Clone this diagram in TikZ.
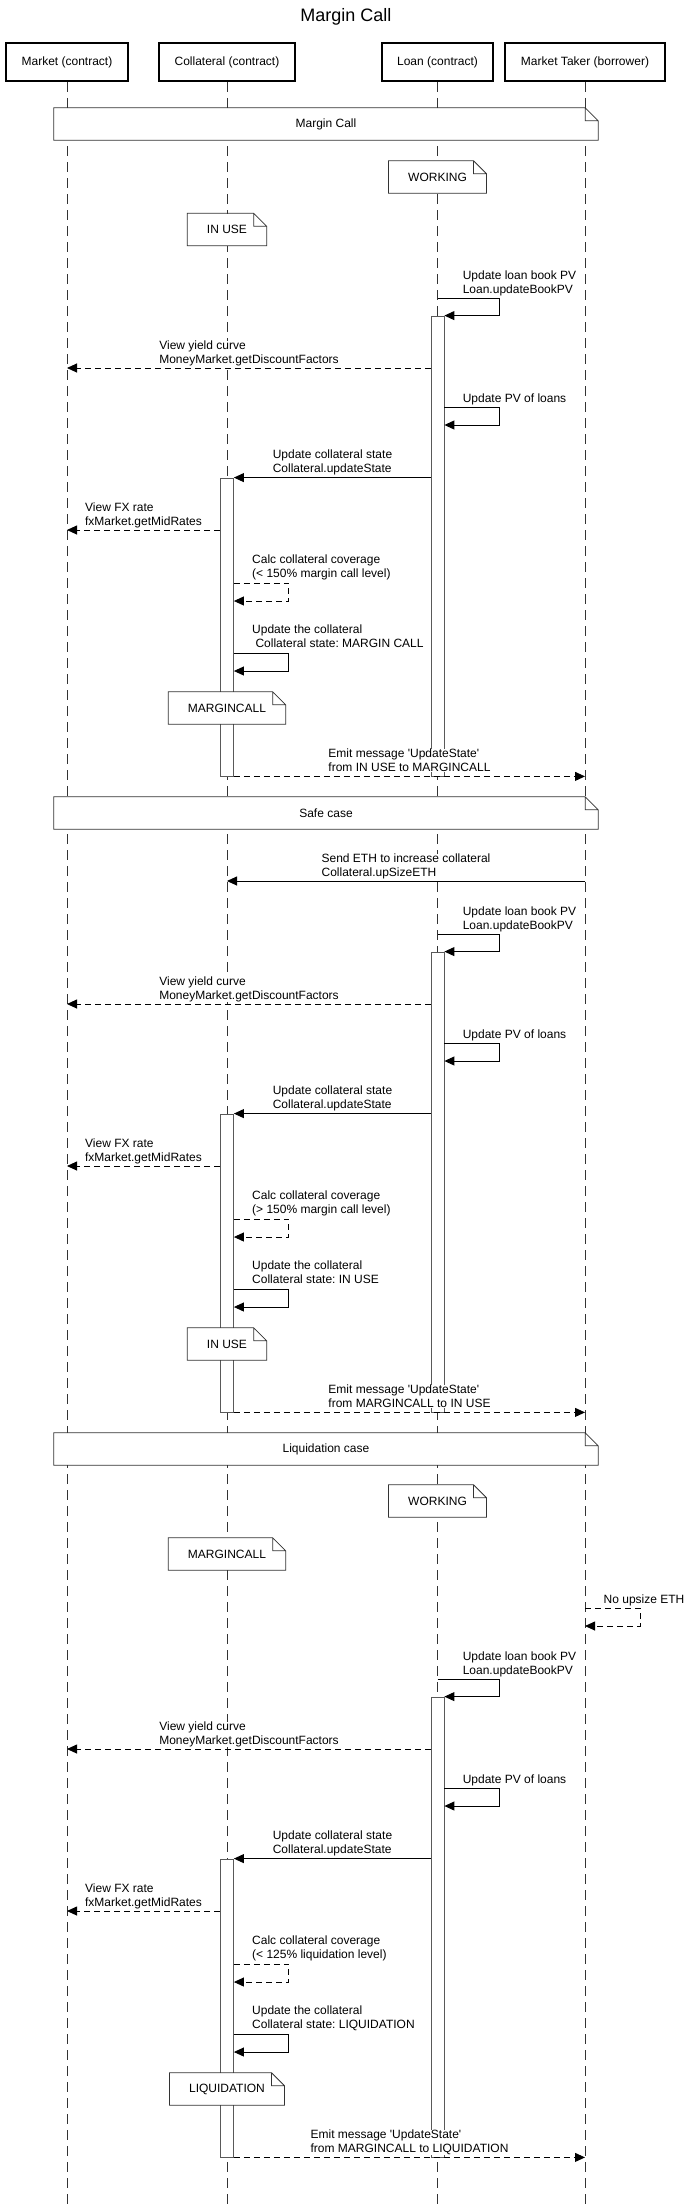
\documentclass[tikz,border=0pt]{standalone}
\usepackage{fontspec}
\setmainfont{Liberation Sans}
\usetikzlibrary{arrows.meta}
\frenchspacing

\tikzset{
  actor/.style={draw, line width=2pt, inner xsep=15.5pt, inner ysep=0pt, minimum height=38pt},
  lifeline/.style={draw=black!80, line width=0.8pt, dash pattern=on 10pt off 6pt},
  activation/.style={draw=black!65, fill=white, line width=0.8pt, inner sep=0pt, minimum width=13pt},
  statenote/.style={fill=white, inner xsep=19.5pt, inner ysep=0pt, minimum height=32pt},
  phase/.style={fill=white, inner sep=0pt, minimum width=544pt, minimum height=32pt},
  msg/.style={line width=0.9pt, -{Triangle[length=10pt,width=9pt]}},
  reply/.style={msg, dash pattern=on 6pt off 4pt},
  msgtext/.style={align=left, inner sep=0pt, fill=white},
}
% folded corner outline of a note
\newcommand{\dogear}[1]{%
  \draw[black!80, line width=0.8pt] (#1.south west) -- (#1.north west)
    -- ([xshift=-13pt]#1.north east) -- ([yshift=-13pt]#1.north east)
    -- (#1.south east) -- cycle
    ([xshift=-13pt]#1.north east) |- ([yshift=-13pt]#1.north east);}

\begin{document}
\begin{tikzpicture}[x=1pt, y=-1pt, font=\fontsize{12}{14}\selectfont]
\useasboundingbox (0,0) rectangle (692,2205);
\coordinate (bottom) at (0,2205);

% title and participants
\node[font=\fontsize{18}{21}\selectfont] (title) at (346,16.7) {Margin Call};
\node[actor] (mkt) at (67,62) {Market (contract)};
\node[actor] (col) at (227,62) {Collateral (contract)};
\node[actor] (loan) at (437.5,62) {Loan (contract)};
\node[actor] (taker) at (585,62) {Market Taker (borrower)};

% lifelines
\draw[lifeline] (mkt.south) -- (mkt |- bottom);
\draw[lifeline] (col.south) -- (col |- bottom);
\draw[lifeline] (loan.south) -- (loan |- bottom);
\draw[lifeline] (taker.south) -- (taker |- bottom);

% ---- margin call ----
\node[phase] (phase1) at (326,124) {Margin Call};
\dogear{phase1}
\node[statenote] (work1) at (437.5,177) {WORKING};
\dogear{work1}
\node[statenote] (inuse1) at (227,229.5) {IN USE};
\dogear{inuse1}

\node[activation, minimum height=460pt] (lact1) at (437.5,546) {};
\node[activation, minimum height=298pt] (cact1) at (227,627) {};
\node[statenote] (mc1) at (227,708) {MARGINCALL};
\dogear{mc1}

\node[msgtext, anchor=north west] (bookpv1) at (462.6,270.6) {Update loan book PV\\Loan.updateBookPV};
\draw[msg] (loan |- 0,298) -- ++(62,0) |- (lact1.north east);
\node[msgtext, anchor=north] (curve1) at (249,340.6) {View yield curve\\MoneyMarket.getDiscountFactors};
\draw[reply] (lact1.west |- 0,368) -- (mkt |- 0,368);
\node[msgtext, anchor=north west] (pv1) at (462.6,393.6) {Update PV of loans};
\draw[msg] (lact1.east |- 0,407) -- ++(55,0) |- (lact1.east |- 0,425);
\node[msgtext, anchor=north] (upd1) at (332.5,449.6) {Update collateral state\\Collateral.updateState};
\draw[msg] (lact1.west |- cact1.north) -- (cact1.north east);
\node[msgtext, anchor=north] (fx1) at (143.5,502.6) {View FX rate\\fxMarket.getMidRates};
\draw[reply] (cact1.west |- 0,530) -- (mkt |- 0,530);
\node[msgtext, anchor=north west] (calc1) at (252,554.6) {Calc collateral coverage\\(< 150\% margin call level)};
\draw[reply] (cact1.east |- 0,583) -- ++(55,0) |- (cact1.east |- 0,601);
\node[msgtext, anchor=north west] (setst1) at (252,624.6) {Update the collateral\\\hspace*{3.3pt}Collateral state: MARGIN CALL};
\draw[msg] (cact1.east |- 0,653) -- ++(55,0) |- (cact1.east |- 0,671);
\node[msgtext, anchor=north] (emit1) at (409.5,748.6) {Emit message \textquotesingle UpdateState\textquotesingle\\from IN USE to MARGINCALL};
\draw[reply] (cact1.south east) -- (taker |- cact1.south);

% ---- safe case ----
\node[phase] (phase2) at (326,813) {Safe case};
\dogear{phase2}

\node[msgtext, anchor=north] (sendeth) at (406,853.6) {Send ETH to increase collateral\\Collateral.upSizeETH};
\draw[msg] (taker |- 0,881) -- (col |- 0,881);

\node[activation, minimum height=460pt] (lact2) at (437.5,1182) {};
\node[activation, minimum height=298pt] (cact2) at (227,1263) {};
\node[statenote] (inuse2) at (227,1344) {IN USE};
\dogear{inuse2}

\node[msgtext, anchor=north west] (bookpv2) at (462.6,906.6) {Update loan book PV\\Loan.updateBookPV};
\draw[msg] (loan |- 0,934) -- ++(62,0) |- (lact2.north east);
\node[msgtext, anchor=north] (curve2) at (249,976.6) {View yield curve\\MoneyMarket.getDiscountFactors};
\draw[reply] (lact2.west |- 0,1004) -- (mkt |- 0,1004);
\node[msgtext, anchor=north west] (pv2) at (462.6,1029.6) {Update PV of loans};
\draw[msg] (lact2.east |- 0,1043) -- ++(55,0) |- (lact2.east |- 0,1061);
\node[msgtext, anchor=north] (upd2) at (332.5,1085.6) {Update collateral state\\Collateral.updateState};
\draw[msg] (lact2.west |- cact2.north) -- (cact2.north east);
\node[msgtext, anchor=north] (fx2) at (143.5,1138.6) {View FX rate\\fxMarket.getMidRates};
\draw[reply] (cact2.west |- 0,1166) -- (mkt |- 0,1166);
\node[msgtext, anchor=north west] (calc2) at (252,1190.6) {Calc collateral coverage\\(> 150\% margin call level)};
\draw[reply] (cact2.east |- 0,1219) -- ++(55,0) |- (cact2.east |- 0,1237);
\node[msgtext, anchor=north west] (setst2) at (252,1260.6) {Update the collateral\\Collateral state: IN USE};
\draw[msg] (cact2.east |- 0,1289) -- ++(55,0) |- (cact2.east |- 0,1307);
\node[msgtext, anchor=north] (emit2) at (409.5,1384.6) {Emit message \textquotesingle UpdateState\textquotesingle\\from MARGINCALL to IN USE};
\draw[reply] (cact2.south east) -- (taker |- cact2.south);

% ---- liquidation case ----
\node[phase] (phase3) at (326,1449) {Liquidation case};
\dogear{phase3}
\node[statenote] (work3) at (437.5,1501) {WORKING};
\dogear{work3}
\node[statenote] (mc3) at (227,1554) {MARGINCALL};
\dogear{mc3}

\node[msgtext, anchor=north west] (noeth) at (603.5,1594.6) {No upsize ETH};
\draw[reply] (taker |- 0,1608) -- ++(55,0) |- (taker |- 0,1626);

\node[activation, minimum height=460pt] (lact3) at (437.5,1927) {};
\node[activation, minimum height=298pt] (cact3) at (227,2008) {};
\node[statenote] (liq3) at (227,2089) {LIQUIDATION};
\dogear{liq3}

\node[msgtext, anchor=north west] (bookpv3) at (462.6,1651.6) {Update loan book PV\\Loan.updateBookPV};
\draw[msg] (loan |- 0,1679) -- ++(62,0) |- (lact3.north east);
\node[msgtext, anchor=north] (curve3) at (249,1721.6) {View yield curve\\MoneyMarket.getDiscountFactors};
\draw[reply] (lact3.west |- 0,1749) -- (mkt |- 0,1749);
\node[msgtext, anchor=north west] (pv3) at (462.6,1774.6) {Update PV of loans};
\draw[msg] (lact3.east |- 0,1788) -- ++(55,0) |- (lact3.east |- 0,1806);
\node[msgtext, anchor=north] (upd3) at (332.5,1830.6) {Update collateral state\\Collateral.updateState};
\draw[msg] (lact3.west |- cact3.north) -- (cact3.north east);
\node[msgtext, anchor=north] (fx3) at (143.5,1883.6) {View FX rate\\fxMarket.getMidRates};
\draw[reply] (cact3.west |- 0,1911) -- (mkt |- 0,1911);
\node[msgtext, anchor=north west] (calc3) at (252,1935.6) {Calc collateral coverage\\(< 125\% liquidation level)};
\draw[reply] (cact3.east |- 0,1964) -- ++(55,0) |- (cact3.east |- 0,1982);
\node[msgtext, anchor=north west] (setst3) at (252,2005.6) {Update the collateral\\Collateral state: LIQUIDATION};
\draw[msg] (cact3.east |- 0,2034) -- ++(55,0) |- (cact3.east |- 0,2052);
\node[msgtext, anchor=north] (emit3) at (409.5,2129.6) {Emit message \textquotesingle UpdateState\textquotesingle\\from MARGINCALL to LIQUIDATION};
\draw[reply] (cact3.south east) -- (taker |- cact3.south);

\end{tikzpicture}
\end{document}
